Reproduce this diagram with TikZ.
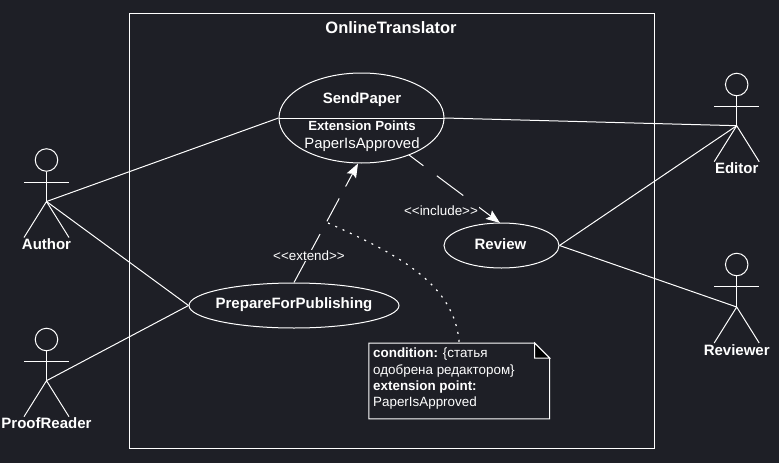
\documentclass[tikz,border=0pt]{standalone}
\usepackage{fontspec}
\setmainfont{Liberation Sans}
\usetikzlibrary{shapes.geometric,arrows.meta,calc}
\definecolor{bgdark}{HTML}{1E1F26}
\tikzset{
  umlline/.style={draw=white,line width=1pt},
  usecase/.style={ellipse,draw=white,line width=1pt,fill=bgdark,inner sep=0pt},
  actorlabel/.style={text=white,font=\fontsize{15}{16}\selectfont\bfseries,inner sep=0pt},
  casetext/.style={text=white,inner sep=0pt},
  edgelabel/.style={text=white,font=\fontsize{13.4}{15}\selectfont,fill=bgdark,inner sep=1pt},
  dep/.style={umlline,-{Stealth[length=14pt,width=10.5pt,inset=2.5pt]}},
}
\newcommand{\umlactor}[5]{% id, x, head y, hip y, label
  \node[circle,draw=white,line width=1pt,minimum size=22.5pt,inner sep=0pt] (#1head) at (#2,#3) {};
  \coordinate (#1hip) at (#2,#4);
  \coordinate (#1arml) at ($(#2,#3)+(-22.5,22.3)$);
  \coordinate (#1armr) at ($(#2,#3)+(22.5,22.3)$);
  \coordinate (#1legl) at ($(#2,#4)+(-22.5,36)$);
  \coordinate (#1legr) at ($(#2,#4)+(22.5,36)$);
  \draw[umlline] (#1head.south) -- (#1hip);
  \draw[umlline] (#1arml) -- (#1armr);
  \draw[umlline] (#1legl) -- (#1hip) -- (#1legr);
  \node[actorlabel] (#1label) at ($(#2,#4)+(0,42.8)$) {#5};
}
\begin{document}
\begin{tikzpicture}[x=1pt,y=-1pt]
\useasboundingbox (0,0) rectangle (779,463);
\fill[bgdark] (0,0) rectangle (779,463);
\node[draw=white,line width=1pt,minimum width=525pt,minimum height=435pt,inner sep=0pt] (system) at (391.5,230.5) {};
\node[text=white,font=\fontsize{16.5}{18}\selectfont\bfseries,inner sep=0pt] (systitle) at (391,27.5) {OnlineTranslator};

\umlactor{author}{46.5}{160}{201.5}{Author}
\umlactor{proof}{46.5}{339.5}{380.7}{ProofReader}
\umlactor{editor}{736.7}{84.5}{125.7}{Editor}
\umlactor{reviewer}{736.7}{264.5}{307}{Reviewer}

\node[usecase,minimum width=165pt,minimum height=90pt] (send) at (361.5,118) {};
\node[usecase,minimum width=115pt,minimum height=45pt] (review) at (501.5,245.5) {};
\node[usecase,minimum width=210pt,minimum height=45pt] (prepare) at (294,305.5) {};

\draw[umlline] (send.west) -- (send.east);
\node[casetext,font=\fontsize{15}{16}\selectfont\bfseries] (sendname) at (362,100) {SendPaper};
\node[casetext,font=\fontsize{13.25}{15}\selectfont\bfseries] (sendext) at (362,125.5) {Extension Points};
\node[casetext,font=\fontsize{14.9}{16}\selectfont] (sendpoint) at (362,145) {PaperIsApproved};
\node[casetext,font=\fontsize{15}{16}\selectfont\bfseries] (reviewname) at (500.5,244.5) {Review};
\node[casetext,font=\fontsize{15}{16}\selectfont\bfseries] (preparename) at (294,304.5) {PrepareForPublishing};

\draw[umlline] (authorhip) -- (send.west);
\draw[umlline] (authorhip) -- (prepare.west);
\draw[umlline] (proofhip) -- (prepare.west);
\draw[umlline] (send.east) -- (editorhip);
\draw[umlline] (review.east) -- (editorhip);
\draw[umlline] (review.east) -- (reviewerhip);

% note
\node[minimum width=180.5pt,minimum height=75.5pt,inner sep=0pt] (note) at (459.2,381) {};
\coordinate (foldtop) at ($(note.north east)+(-15,0)$);
\coordinate (foldside) at ($(note.north east)+(0,15)$);
\coordinate (foldin) at ($(note.north east)+(-15,15)$);
\draw[umlline,fill=bgdark] (note.north west) -- (foldtop) -- (foldside) -- (note.south east) -- (note.south west) -- cycle;
\draw[umlline,fill=black] (foldtop) -- (foldside) -- (foldin) -- cycle;
\node[casetext,anchor=north west,align=left,font=\fontsize{13.4}{16.3}\selectfont] (notetext) at (373,348) {\textbf{condition:} \{статья\\одобрена редактором\}\\\textbf{extension point:}\\PaperIsApproved};

% dependencies
\coordinate (incstart) at (409,155);
\coordinate (incend) at (500,223);
\coordinate (extend) at (358,163.5);
\draw[dep,dash pattern=on 18pt off 16.7pt on 33pt off 16.5pt on 60pt off 1pt] (incstart) -- (incend);
\draw[dep,dash pattern=on 55pt off 14.5pt on 26pt off 13.5pt on 60pt off 1pt] (prepare.north) -- (extend);
\coordinate (dotstart) at (328,223);
\draw[draw=white,line width=1.2pt,dash pattern=on 2pt off 6pt] (dotstart) .. controls (400,255) and (455,285) .. (note.north);
\node[edgelabel] (inclabel) at (441,210.5) {<{}<include>{}>};
\node[edgelabel] (extlabel) at (309,255.5) {<{}<extend>{}>};
\end{tikzpicture}
\end{document}
